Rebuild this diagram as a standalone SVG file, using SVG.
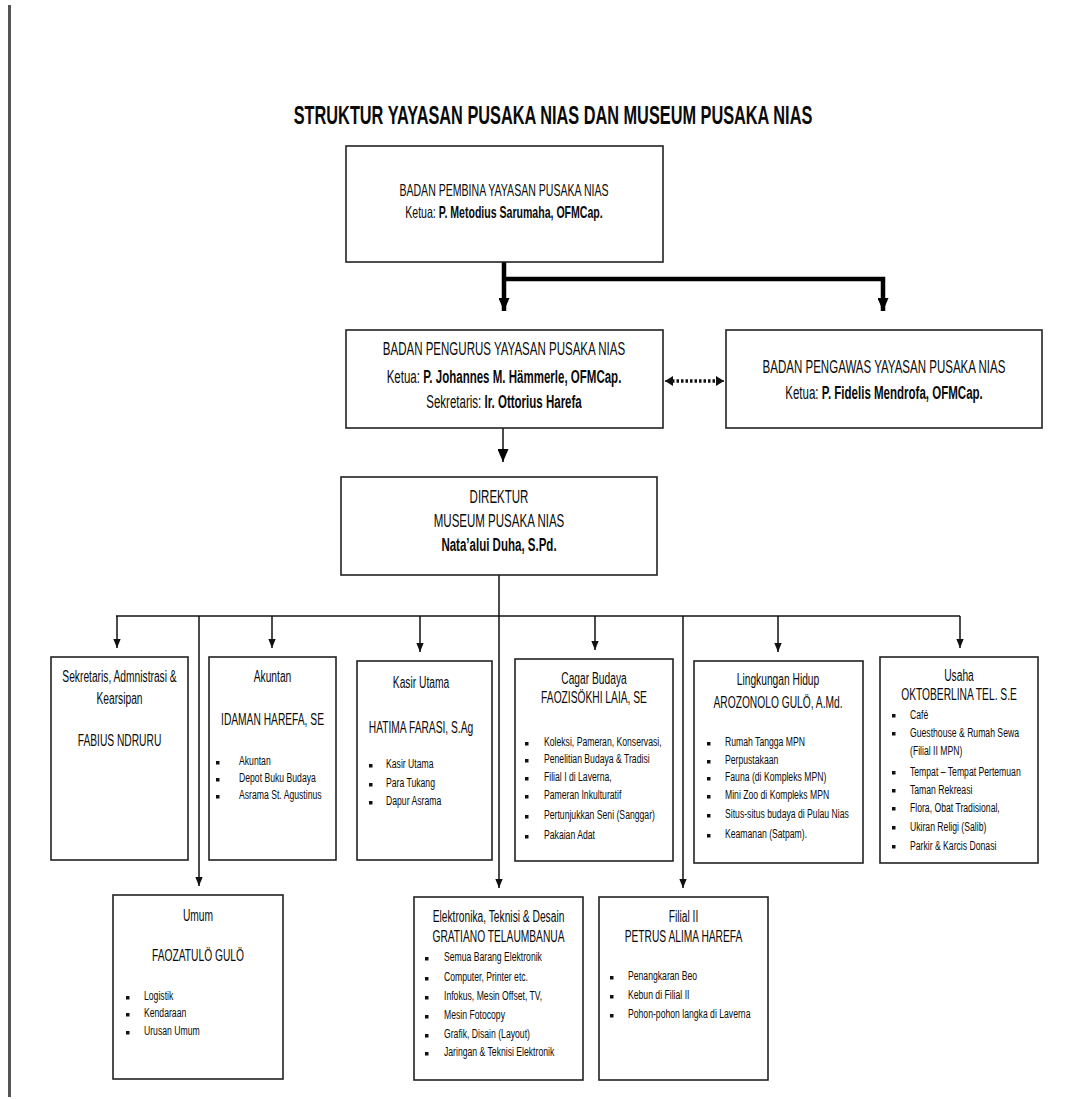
<svg xmlns="http://www.w3.org/2000/svg" width="1088" height="1099" viewBox="0 0 1088 1099">
<style>
text { font-family: "Liberation Sans", Arial, sans-serif; fill: #0a0a0a; }
.c { text-anchor: middle; }
.t { font-size: 25.5px; font-weight: bold; }
.p1 { font-size: 16.5px; }
.p2 { font-size: 18px; }
.h { font-size: 16px; }
.b { font-size: 13.5px; }
.bd { font-weight: bold; }
.box { fill: #fff; stroke: #222; stroke-width: 1.6; }
.ln { fill: none; stroke: #111; stroke-width: 1.5; }
.thick { fill: none; stroke: #000; stroke-width: 4.5; }
.dot { fill: none; stroke: #111; stroke-width: 3.5; stroke-dasharray: 2.5 2; }
.bul { fill: #111; }
</style>
<defs>
<marker id="ah" markerUnits="userSpaceOnUse" markerWidth="9" markerHeight="9" refX="11" refY="4.5" viewBox="0 0 11 9" orient="auto"><path d="M0,0 L11,4.5 L0,9 z" fill="#111"/></marker>
<marker id="ahT" markerUnits="userSpaceOnUse" markerWidth="13" markerHeight="11" refX="13" refY="5.5" viewBox="0 0 13 11" orient="auto"><path d="M0,0 L13,5.5 L0,11 z" fill="#000"/></marker>
<marker id="ahD" markerUnits="userSpaceOnUse" markerWidth="8" markerHeight="10" refX="8" refY="5" viewBox="0 0 8 10" orient="auto-start-reverse"><path d="M0,0 L8,5 L0,10 z" fill="#111"/></marker>
</defs>
<rect width="1088" height="1099" fill="#fff"/>
<line x1="9.5" y1="5" x2="9.5" y2="1097" stroke="#555" stroke-width="3"/>

<g id="title" transform="translate(553,0) scale(0.64,1)"><text class="t c" x="0" y="124">STRUKTUR YAYASAN PUSAKA NIAS DAN MUSEUM PUSAKA NIAS</text></g>

<g id="connectors">
<line class="thick" x1="504" y1="262" x2="504" y2="311" marker-end="url(#ahT)"/>
<polyline class="thick" points="502,279 883,279 883,311" marker-end="url(#ahT)"/>
<line class="dot" x1="672" y1="381" x2="717" y2="381"/>
<line class="ln" x1="672" y1="381" x2="665" y2="381" marker-end="url(#ahD)" stroke-width="0.1"/>
<line class="ln" x1="717" y1="381" x2="724" y2="381" marker-end="url(#ahD)" stroke-width="0.1"/>
<line class="ln" x1="503" y1="428" x2="503" y2="462" stroke-width="3" marker-end="url(#ahT)"/>
<line class="ln" x1="499" y1="575" x2="499" y2="888" marker-end="url(#ah)"/>
<line class="ln" x1="116" y1="616" x2="960" y2="616"/>
<line class="ln" x1="117" y1="616" x2="117" y2="648" marker-end="url(#ah)"/>
<line class="ln" x1="272" y1="616" x2="272" y2="648" marker-end="url(#ah)"/>
<line class="ln" x1="420" y1="616" x2="420" y2="652" marker-end="url(#ah)"/>
<line class="ln" x1="595" y1="616" x2="595" y2="650" marker-end="url(#ah)"/>
<line class="ln" x1="778" y1="616" x2="778" y2="652" marker-end="url(#ah)"/>
<line class="ln" x1="960" y1="616" x2="960" y2="648" marker-end="url(#ah)"/>
<line class="ln" x1="199" y1="616" x2="199" y2="886" marker-end="url(#ah)"/>
<line class="ln" x1="683" y1="616" x2="683" y2="888" marker-end="url(#ah)"/>
</g>

<g id="n-pembina">
<rect class="box" x="346" y="146" width="317" height="116"/>
<g transform="translate(504,0) scale(0.64,1)">
<text class="p1 c" x="0" y="196">BADAN PEMBINA YAYASAN PUSAKA NIAS</text>
<text class="p1 c" x="0" y="218">Ketua: <tspan class="bd">P. Metodius Sarumaha, OFMCap.</tspan></text>
</g>
</g>

<g id="n-pengurus">
<rect class="box" x="346" y="330" width="317" height="98"/>
<g transform="translate(504,0) scale(0.64,1)">
<text class="p2 c" x="0" y="355">BADAN PENGURUS YAYASAN PUSAKA NIAS</text>
<text class="p2 c" x="0" y="383">Ketua: <tspan class="bd">P. Johannes M. Hämmerle, OFMCap.</tspan></text>
<text class="p2 c" x="0" y="408">Sekretaris: <tspan class="bd">Ir. Ottorius Harefa</tspan></text>
</g>
</g>

<g id="n-pengawas">
<rect class="box" x="726" y="330" width="316" height="98"/>
<g transform="translate(884,0) scale(0.64,1)">
<text class="p2 c" x="0" y="373">BADAN PENGAWAS YAYASAN PUSAKA NIAS</text>
<text class="p2 c" x="0" y="399">Ketua: <tspan class="bd">P. Fidelis Mendrofa, OFMCap.</tspan></text>
</g>
</g>

<g id="n-direktur">
<rect class="box" x="341" y="477" width="316" height="98"/>
<g transform="translate(499,0) scale(0.64,1)">
<text class="p2 c" x="0" y="503">DIREKTUR</text>
<text class="p2 c" x="0" y="527">MUSEUM PUSAKA NIAS</text>
<text class="p2 c bd" x="0" y="551">Nata’alui Duha, S.Pd.</text>
</g>
</g>

<g id="n-sekretaris">
<rect class="box" x="51" y="657" width="137" height="203"/>
<g transform="translate(119.5,0) scale(0.64,1)">
<text class="h c" x="0" y="682">Sekretaris, Admnistrasi &amp;</text>
<text class="h c" x="0" y="704">Kearsipan</text>
<text class="h c" x="0" y="746">FABIUS NDRURU</text>
</g>
</g>

<g id="n-akuntan">
<rect class="box" x="209" y="657" width="127" height="203"/>
<g transform="translate(272.5,0) scale(0.64,1)">
<text class="h c" x="0" y="682">Akuntan</text>
<text class="h c" x="0" y="725">IDAMAN HAREFA, SE</text>
</g>
<rect class="bul" x="216" y="761" width="3.5" height="3.5"/>
<rect class="bul" x="216" y="778" width="3.5" height="3.5"/>
<rect class="bul" x="216" y="795" width="3.5" height="3.5"/>
<g transform="translate(239,0) scale(0.64,1)">
<text class="b" x="0" y="765">Akuntan</text>
<text class="b" x="0" y="782">Depot Buku Budaya</text>
<text class="b" x="0" y="799">Asrama St. Agustinus</text>
</g>
</g>

<g id="n-kasir">
<rect class="box" x="357" y="661" width="135" height="199"/>
<g transform="translate(421,0) scale(0.64,1)">
<text class="h c" x="0" y="688">Kasir Utama</text>
<text class="h c" x="0" y="733">HATIMA FARASI, S.Ag</text>
</g>
<rect class="bul" x="369" y="764" width="3.5" height="3.5"/>
<rect class="bul" x="369" y="783" width="3.5" height="3.5"/>
<rect class="bul" x="369" y="801" width="3.5" height="3.5"/>
<g transform="translate(386,0) scale(0.64,1)">
<text class="b" x="0" y="768">Kasir Utama</text>
<text class="b" x="0" y="787">Para Tukang</text>
<text class="b" x="0" y="805">Dapur Asrama</text>
</g>
</g>

<g id="n-cagar">
<rect class="box" x="515" y="659" width="158" height="202"/>
<g transform="translate(594,0) scale(0.64,1)">
<text class="h c" x="0" y="684">Cagar Budaya</text>
<text class="h c" x="0" y="703">FAOZISÖKHI LAIA, SE</text>
</g>
<rect class="bul" x="525" y="742" width="3.5" height="3.5"/>
<rect class="bul" x="525" y="759" width="3.5" height="3.5"/>
<rect class="bul" x="525" y="777" width="3.5" height="3.5"/>
<rect class="bul" x="525" y="795" width="3.5" height="3.5"/>
<rect class="bul" x="525" y="815" width="3.5" height="3.5"/>
<rect class="bul" x="525" y="835" width="3.5" height="3.5"/>
<g transform="translate(544,0) scale(0.64,1)">
<text class="b" x="0" y="746">Koleksi, Pameran, Konservasi,</text>
<text class="b" x="0" y="763">Penelitian Budaya &amp; Tradisi</text>
<text class="b" x="0" y="781">Filial I di Laverna,</text>
<text class="b" x="0" y="799">Pameran Inkulturatif</text>
<text class="b" x="0" y="819">Pertunjukkan Seni (Sanggar)</text>
<text class="b" x="0" y="839">Pakaian Adat</text>
</g>
</g>

<g id="n-lingkungan">
<rect class="box" x="694" y="661" width="169" height="202"/>
<g transform="translate(778,0) scale(0.64,1)">
<text class="h c" x="0" y="685">Lingkungan Hidup</text>
<text class="h c" x="0" y="708">AROZONOLO GULÖ, A.Md.</text>
</g>
<rect class="bul" x="707" y="742" width="3.5" height="3.5"/>
<rect class="bul" x="707" y="760" width="3.5" height="3.5"/>
<rect class="bul" x="707" y="777" width="3.5" height="3.5"/>
<rect class="bul" x="707" y="795" width="3.5" height="3.5"/>
<rect class="bul" x="707" y="814" width="3.5" height="3.5"/>
<rect class="bul" x="707" y="834" width="3.5" height="3.5"/>
<g transform="translate(725,0) scale(0.64,1)">
<text class="b" x="0" y="746">Rumah Tangga MPN</text>
<text class="b" x="0" y="764">Perpustakaan</text>
<text class="b" x="0" y="781">Fauna (di Kompleks MPN)</text>
<text class="b" x="0" y="799">Mini Zoo di Kompleks MPN</text>
<text class="b" x="0" y="818">Situs-situs budaya di Pulau Nias</text>
<text class="b" x="0" y="838">Keamanan (Satpam).</text>
</g>
</g>

<g id="n-usaha">
<rect class="box" x="880" y="657" width="158" height="206"/>
<g transform="translate(959,0) scale(0.64,1)">
<text class="h c" x="0" y="681">Usaha</text>
<text class="h c" x="0" y="700">OKTOBERLINA TEL. S.E</text>
</g>
<rect class="bul" x="892" y="714" width="3.5" height="3.5"/>
<rect class="bul" x="892" y="732" width="3.5" height="3.5"/>
<rect class="bul" x="892" y="771" width="3.5" height="3.5"/>
<rect class="bul" x="892" y="789" width="3.5" height="3.5"/>
<rect class="bul" x="892" y="807" width="3.5" height="3.5"/>
<rect class="bul" x="892" y="826" width="3.5" height="3.5"/>
<rect class="bul" x="892" y="845" width="3.5" height="3.5"/>
<g transform="translate(910,0) scale(0.64,1)">
<text class="b" x="0" y="719">Café</text>
<text class="b" x="0" y="737">Guesthouse &amp; Rumah Sewa</text>
<text class="b" x="0" y="755">(Filial II MPN)</text>
<text class="b" x="0" y="776">Tempat – Tempat Pertemuan</text>
<text class="b" x="0" y="794">Taman Rekreasi</text>
<text class="b" x="0" y="812">Flora, Obat Tradisional,</text>
<text class="b" x="0" y="831">Ukiran Religi (Salib)</text>
<text class="b" x="0" y="850">Parkir &amp; Karcis Donasi</text>
</g>
</g>

<g id="n-umum">
<rect class="box" x="113" y="895" width="170" height="184"/>
<g transform="translate(198,0) scale(0.64,1)">
<text class="h c" x="0" y="921">Umum</text>
<text class="h c" x="0" y="961">FAOZATULÖ GULÖ</text>
</g>
<rect class="bul" x="126" y="996" width="3.5" height="3.5"/>
<rect class="bul" x="126" y="1013" width="3.5" height="3.5"/>
<rect class="bul" x="126" y="1031" width="3.5" height="3.5"/>
<g transform="translate(144,0) scale(0.64,1)">
<text class="b" x="0" y="1000">Logistik</text>
<text class="b" x="0" y="1017">Kendaraan</text>
<text class="b" x="0" y="1035">Urusan Umum</text>
</g>
</g>

<g id="n-elektronika">
<rect class="box" x="414" y="897" width="169" height="183"/>
<g transform="translate(498.5,0) scale(0.64,1)">
<text class="h c" x="0" y="922">Elektronika, Teknisi &amp; Desain</text>
<text class="h c" x="0" y="942">GRATIANO TELAUMBANUA</text>
</g>
<rect class="bul" x="425" y="957" width="3.5" height="3.5"/>
<rect class="bul" x="425" y="977" width="3.5" height="3.5"/>
<rect class="bul" x="425" y="996" width="3.5" height="3.5"/>
<rect class="bul" x="425" y="1015" width="3.5" height="3.5"/>
<rect class="bul" x="425" y="1034" width="3.5" height="3.5"/>
<rect class="bul" x="425" y="1052" width="3.5" height="3.5"/>
<g transform="translate(444,0) scale(0.64,1)">
<text class="b" x="0" y="961">Semua Barang Elektronik</text>
<text class="b" x="0" y="981">Computer, Printer etc.</text>
<text class="b" x="0" y="1000">Infokus, Mesin Offset, TV,</text>
<text class="b" x="0" y="1019">Mesin Fotocopy</text>
<text class="b" x="0" y="1038">Grafik, Disain (Layout)</text>
<text class="b" x="0" y="1056">Jaringan &amp; Teknisi Elektronik</text>
</g>
</g>

<g id="n-filial">
<rect class="box" x="599" y="897" width="169" height="183"/>
<g transform="translate(683.5,0) scale(0.64,1)">
<text class="h c" x="0" y="922">Filial II</text>
<text class="h c" x="0" y="942">PETRUS ALIMA HAREFA</text>
</g>
<rect class="bul" x="610" y="976" width="3.5" height="3.5"/>
<rect class="bul" x="610" y="995" width="3.5" height="3.5"/>
<rect class="bul" x="610" y="1014" width="3.5" height="3.5"/>
<g transform="translate(628,0) scale(0.64,1)">
<text class="b" x="0" y="980">Penangkaran Beo</text>
<text class="b" x="0" y="999">Kebun di  Filial II</text>
<text class="b" x="0" y="1018">Pohon-pohon langka di Laverna</text>
</g>
</g>
</svg>
